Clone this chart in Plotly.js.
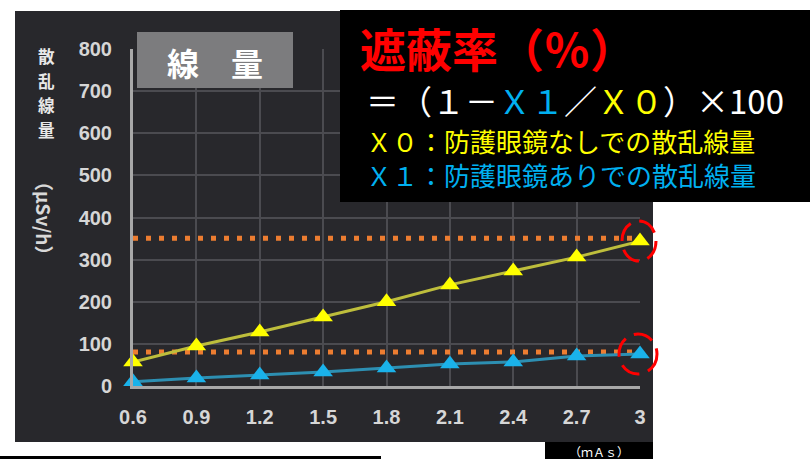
<!DOCTYPE html>
<html>
<head>
<meta charset="utf-8">
<script src="https://cdn.plot.ly/plotly-3.0.1.min.js"></script>
<style>html,body{margin:0;padding:0;background:#fff;}#chart{width:810px;height:459px;}</style>
</head>
<body>
<div id="chart"></div>
<script>
// ---- data ----
var mAs = [0.6, 0.9, 1.2, 1.5, 1.8, 2.1, 2.4, 2.7, 3];
var xTickText = ['0.6', '0.9', '1.2', '1.5', '1.8', '2.1', '2.4', '2.7', '3'];
var x0NoGlasses = [57, 95, 128, 164, 200, 240, 273, 306, 344];   // X0 yellow
var x1WithGlasses = [10, 19, 26, 33, 43, 52, 57, 71, 76];        // X1 blue
var yTickVals = [0, 100, 200, 300, 400, 500, 600, 700, 800];
var refLevels = [351, 81];
var refX = [0.6, 2.97];
var yTitleChars = ['散', '乱', '線', '量'];

var W = 810, H = 459;
function px(x) { return x / W; }
function py(y) { return 1 - y / H; }

var YELLOW = '#ffff00', BLUE = '#00b0f0', RED = '#ff0000', ORANGE = '#ED7D31';
var JP = '"Noto Sans CJK JP", sans-serif';
var xDomain = [px(133), px(640)];
var yDomain = [py(386), py(49)];

var traces = [];
refLevels.forEach(function (lv) {
  traces.push({
    x: refX, y: [lv, lv], mode: 'lines', hoverinfo: 'skip', showlegend: false,
    line: { color: ORANGE, width: 5, dash: '5px,8px' }, cliponaxis: false
  });
});
traces.push({
  x: mAs, y: x0NoGlasses, mode: 'lines+markers', showlegend: false, cliponaxis: false,
  line: { color: '#bebe3c', width: 3 },
  marker: { symbol: 'triangle-up', size: 17, color: YELLOW, line: { width: 0 } }
});
traces.push({
  x: mAs, y: x1WithGlasses, mode: 'lines+markers', showlegend: false, cliponaxis: false,
  line: { color: '#2d8fb2', width: 3 },
  marker: { symbol: 'triangle-up', size: 17, color: '#1ab2ea', line: { width: 0 } }
});

var lastI = mAs.length - 1;
var shapes = [
  // dark photo background
  { type: 'rect', xref: 'paper', yref: 'paper', layer: 'below',
    x0: px(15), x1: px(653), y0: py(442), y1: py(11), fillcolor: '#28282c', line: { width: 0 } },
  // black strip at bottom-left
  { type: 'rect', xref: 'paper', yref: 'paper', layer: 'above',
    x0: 0, x1: px(381), y0: py(459), y1: py(456), fillcolor: '#000', line: { width: 0 } },
  // (mAs) box
  { type: 'rect', xref: 'paper', yref: 'paper', layer: 'above',
    x0: px(545), x1: px(653), y0: py(459), y1: py(442), fillcolor: '#000', line: { width: 0 } },
  // gray title box
  { type: 'rect', xref: 'paper', yref: 'paper', layer: 'above',
    x0: px(137), x1: px(293), y0: py(88), y1: py(32), fillcolor: '#7c7c7e', line: { width: 0 } },
  // formula black box
  { type: 'rect', xref: 'paper', yref: 'paper', layer: 'above',
    x0: px(340), x1: 1, y0: py(202), y1: py(10), fillcolor: '#000', line: { width: 0 } },
  // red dashed circles around the last points (x at right end of axis = last mAs)
  { type: 'circle', xref: 'paper', yref: 'y', xsizemode: 'pixel', ysizemode: 'pixel', layer: 'above',
    xanchor: xDomain[1], yanchor: x0NoGlasses[lastI], x0: -18, x1: 16, y0: -20, y1: 20,
    line: { color: RED, width: 3, dash: '20px,9px' } },
  { type: 'circle', xref: 'paper', yref: 'y', xsizemode: 'pixel', ysizemode: 'pixel', layer: 'above',
    xanchor: xDomain[1], yanchor: x1WithGlasses[lastI], x0: -21, x1: 17, y0: -20, y1: 20,
    line: { color: RED, width: 3, dash: '20px,9px' } }
];

var annotations = [
  { xref: 'paper', yref: 'paper', x: px(215), y: py(62), xanchor: 'center', yanchor: 'middle',
    text: '線　量', showarrow: false, font: { family: JP, size: 32, color: '#ffffff', weight: 'bold' } },
  { xref: 'paper', yref: 'paper', x: px(44), y: py(218), xanchor: 'center', yanchor: 'middle',
    text: '（μSv/h）', textangle: 90, showarrow: false,
    font: { family: JP, size: 19, color: '#d8d8d8', weight: 'bold' } },
  { xref: 'paper', yref: 'paper', x: px(358), y: py(47), xanchor: 'left', yanchor: 'middle',
    text: '遮蔽率（％）', showarrow: false, font: { family: JP, size: 46, color: RED, weight: 'bold' } },
  { xref: 'paper', yref: 'paper', x: px(364), y: py(100), xanchor: 'left', yanchor: 'middle',
    text: '＝（１－<span style="color:' + BLUE + '">Ｘ１</span>／<span style="color:' + YELLOW + '">Ｘ０</span>）×100',
    showarrow: false, font: { family: JP, size: 33, color: '#ffffff' } },
  { xref: 'paper', yref: 'paper', x: px(364), y: py(157), xanchor: 'left', yanchor: 'middle', align: 'left',
    text: 'Ｘ０：防護眼鏡なしでの散乱線量<br><span style="color:' + BLUE + '">Ｘ１：防護眼鏡ありでの散乱線量</span>',
    showarrow: false, font: { family: JP, size: 26, color: YELLOW } },
  { xref: 'paper', yref: 'paper', x: px(599), y: py(451), xanchor: 'center', yanchor: 'middle',
    text: '（ｍＡｓ）', showarrow: false, font: { family: JP, size: 12, color: '#ffffff' } }
];
// vertical stacked y-axis title
yTitleChars.forEach(function (ch, i) {
  annotations.push({
    xref: 'paper', yref: 'paper', x: px(46), y: py(56 + i * 24.6), xanchor: 'center', yanchor: 'middle',
    text: ch, showarrow: false, borderpad: 0,
    font: { family: JP, size: 16.6, color: '#e8e8e8', weight: 'bold' }
  });
});

var tickFont = { family: 'Liberation Sans, Arial, sans-serif', size: 20, color: '#d6d6d6', weight: 'bold' };

var layout = {
  width: W, height: H,
  margin: { l: 0, r: 0, t: 0, b: 0 },
  paper_bgcolor: '#ffffff', plot_bgcolor: 'rgba(0,0,0,0)',
  showlegend: false,
  xaxis: {
    domain: xDomain, range: [mAs[0], mAs[lastI]], tickvals: mAs, ticktext: xTickText,
    showgrid: true, gridcolor: '#4b4b50', gridwidth: 2, zeroline: false,
    showline: true, linecolor: '#a8a8a8', linewidth: 3, ticks: '',
    tickfont: tickFont, ticklabelstandoff: 11
  },
  yaxis: {
    domain: yDomain, range: [0, 800], tickvals: yTickVals,
    showgrid: true, gridcolor: '#4b4b50', gridwidth: 2, zeroline: false,
    showline: true, linecolor: '#a8a8a8', linewidth: 3, ticks: '',
    tickfont: tickFont, ticklabelstandoff: 14
  },
  shapes: shapes,
  annotations: annotations
};

Plotly.newPlot('chart', traces, layout, { displayModeBar: false, staticPlot: true });
</script>
</body>
</html>
